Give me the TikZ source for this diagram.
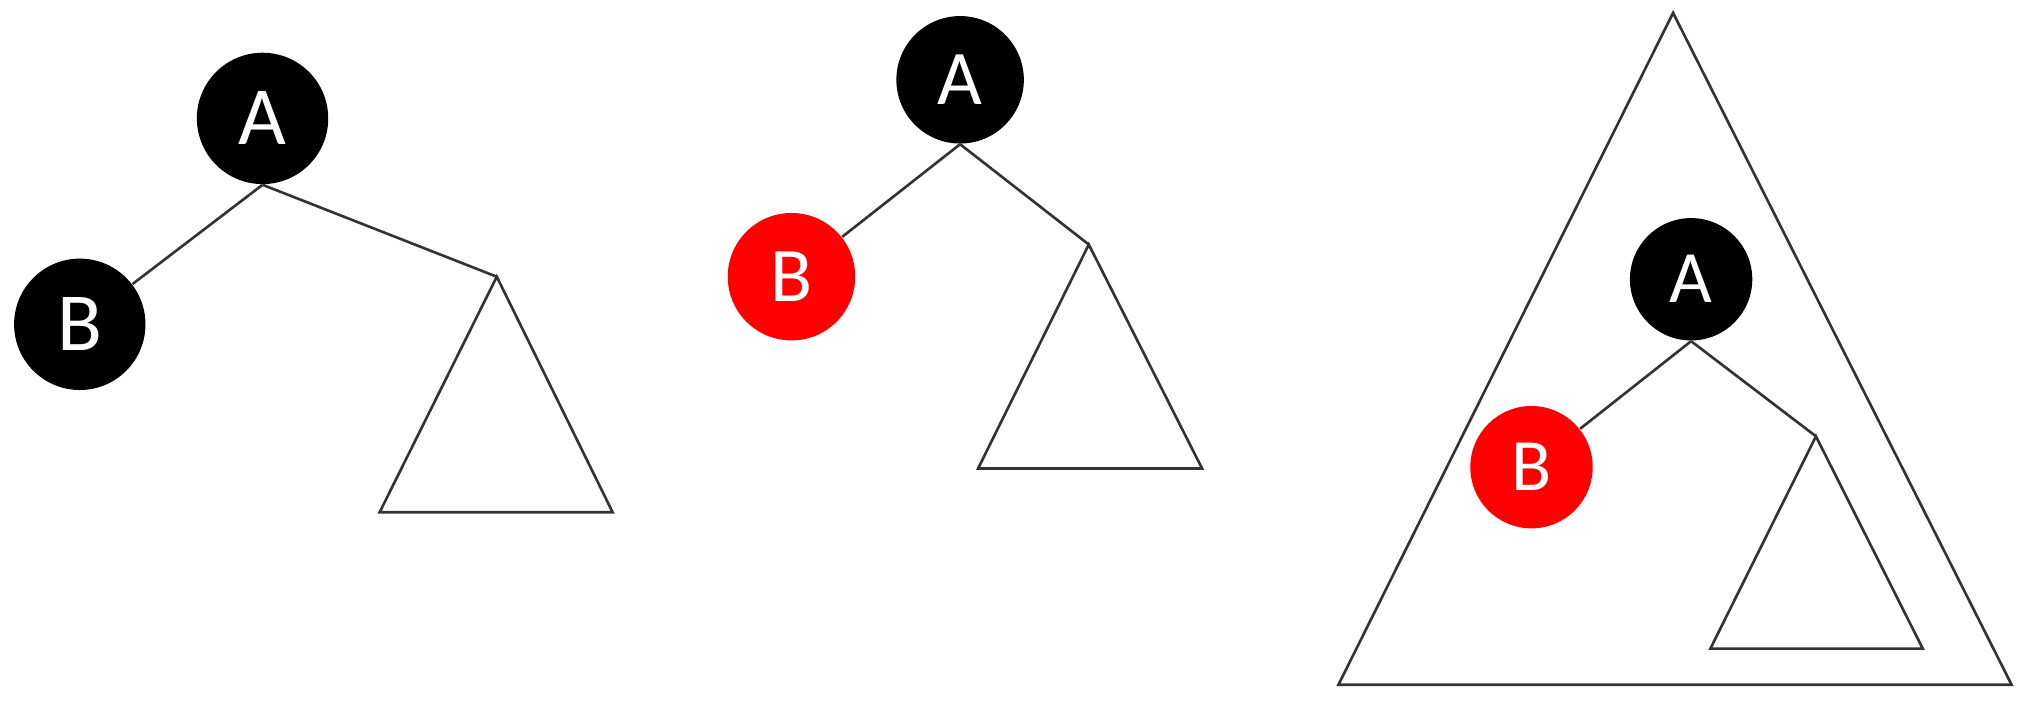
\documentclass[tikz,border=0pt]{standalone}
\usepackage{fontspec}
\setmainfont{Carlito}
\begin{document}
\begin{tikzpicture}[x=0.01287cm,y=-0.01287cm,
  rbnode/.style={circle,inner sep=0pt,text=white,font=\fontsize{22}{26}\selectfont},
  blk/.style={rbnode,fill=black},
  red/.style={rbnode,fill=red},
  edge/.style={draw=black!80,line width=0.75pt},
  subtree/.style={draw=black!80,line width=0.75pt,line join=miter}]
\useasboundingbox (0,0) rectangle (1568,544);
% ---- Tree 1 ----
\node[blk,minimum size=1.313cm,font=\fontsize{23.5}{28}\selectfont] (A1) at (204,92) {A};
\node[blk,minimum size=1.313cm,font=\fontsize{23.5}{28}\selectfont] (B1) at (62,252) {B};
\coordinate (T1) at (386,215);
\coordinate (T1l) at (295,398);
\coordinate (T1r) at (476,398);
\draw[edge] (A1.south) -- (B1);
\draw[edge] (A1.south) -- (T1);
\draw[subtree] (T1) -- (T1l) -- (T1r) -- cycle;
% ---- Tree 2 ----
\node[blk,minimum size=1.274cm] (A2) at (746,62) {A};
\node[red,minimum size=1.274cm] (B2) at (615,215) {B};
\coordinate (T2) at (846,190);
\coordinate (T2l) at (760,364);
\coordinate (T2r) at (934,364);
\draw[edge] (A2.south) -- (B2);
\draw[edge] (A2.south) -- (T2);
\draw[subtree] (T2) -- (T2l) -- (T2r) -- cycle;
% ---- Tree 3 ----
\coordinate (G) at (1300,10);
\coordinate (Gl) at (1040,532);
\coordinate (Gr) at (1563,532);
\draw[subtree] (G) -- (Gl) -- (Gr) -- cycle;
\node[blk,minimum size=1.223cm,font=\fontsize{21}{25}\selectfont] (A3) at (1314,217) {A};
\node[red,minimum size=1.223cm,font=\fontsize{21}{25}\selectfont] (B3) at (1190,363) {B};
\coordinate (T3) at (1411,339);
\coordinate (T3l) at (1329,504);
\coordinate (T3r) at (1494,504);
\draw[edge] (A3.south) -- (B3);
\draw[edge] (A3.south) -- (T3);
\draw[subtree] (T3) -- (T3l) -- (T3r) -- cycle;
\end{tikzpicture}
\end{document}
